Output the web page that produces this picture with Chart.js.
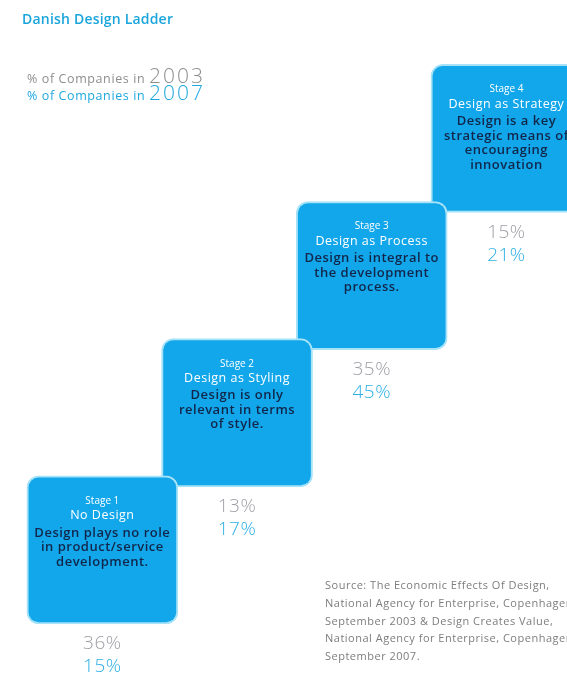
<!DOCTYPE html>
<html>
<head>
<meta charset="utf-8">
<script src="https://cdn.jsdelivr.net/npm/chart.js@4.4.1/dist/chart.umd.min.js"></script>
<style>
    html, body { margin: 0; padding: 0; background: #fff; overflow: hidden; }
    #wrap { position: relative; width: 567px; height: 687px; }
    #ladder { position: absolute; left: 0; top: 0; }
    .title { position: absolute; left: 22px; top: 9px; font: 600 14px "Open Sans"; color: #1aa5dc; letter-spacing: 0.2px; }
    .leg { position: absolute; left: 27px; font: 12.5px "Open Sans"; letter-spacing: 0.6px; white-space: nowrap; }
    .leg span { font-weight: 300; font-size: 21px; letter-spacing: 2px; }
    .y03 { top: 61px; color: #8e8e8e; }
    .y07 { top: 78px; color: #1fa8e0; }
    .source { position: absolute; left: 325px; top: 576px; font: 11px "Open Sans"; line-height: 17.8px; color: #7d7d7d; white-space: nowrap; letter-spacing: 0.5px; }
</style>
</head>
<body>
<div id="wrap">
    <canvas id="ladder" width="567" height="687"></canvas>
    <div class="title">Danish Design Ladder</div>
    <div class="leg y03">% of Companies in <span>2003</span></div>
    <div class="leg y07">% of Companies in <span>2007</span></div>
    <div class="source">
        Source: The Economic Effects Of Design,<br>
        National Agency for Enterprise, Copenhagen<br>
        September 2003 &amp; Design Creates Value,<br>
        National Agency for Enterprise, Copenhagen<br>
        September 2007.
    </div>
</div>

<script>
// ladder rungs (stage number = step height)
const stages = [1, 2, 3, 4];
const stageLabels = ['Stage 1', 'Stage 2', 'Stage 3', 'Stage 4'];
const stageNames = ['No Design', 'Design as Styling', 'Design as Process', 'Design as Strategy'];
const stageText = [
    ['Design plays no role', 'in product/service', 'development.'],
    ['Design is only', 'relevant in terms', 'of style.'],
    ['Design is integral to', 'the development', 'process.'],
    ['Design is a key', 'strategic means of', 'encouraging', 'innovation']
];
const pct2003 = [36, 13, 35, 15];
const pct2007 = [15, 17, 45, 21];

const BOX = '#12a6ea';
const EDGE = '#a6e2f8';
const GREY = '#a19ea6';
const CYAN = '#2eb0e4';
const NAVY = '#12264a';
const STEP_OVERLAP = 0.08;

// lower steps are painted on top of higher ones
const order = stages.map((s, i) => i).reverse();

const textPlugin = {
    id: 'ladderText',
    afterDatasetsDraw(chart) {
        const ctx = chart.ctx;
        const meta = chart.getDatasetMeta(0);
        ctx.save();
        ctx.textAlign = 'center';
        ctx.textBaseline = 'middle';
        meta.data.forEach((bar, j) => {
            const i = order[j];
            const cx = bar.x;
            const top = bar.y;
            const bottom = bar.base;

            ctx.fillStyle = '#ffffff';
            ctx.letterSpacing = '0px';
            ctx.font = '10px "Open Sans"';
            ctx.fillText(stageLabels[i], cx, top + 25);
            ctx.letterSpacing = '0.5px';
            ctx.font = '12.5px "Open Sans"';
            ctx.fillText(stageNames[i], cx, top + 40);

            ctx.fillStyle = NAVY;
            ctx.letterSpacing = '0.5px';
            ctx.font = '600 13px "Open Sans"';
            stageText[i].forEach((line, k) => {
                ctx.fillText(line, cx, top + 57 + k * 14.5);
            });

            ctx.letterSpacing = '0.5px';
            ctx.font = '300 19px "Open Sans"';
            ctx.fillStyle = GREY;
            ctx.fillText(pct2003[i] + '%', cx, bottom + 20);
            ctx.fillStyle = CYAN;
            ctx.fillText(pct2007[i] + '%', cx, bottom + 43);
        });
        ctx.restore();
    }
};

new Chart(document.getElementById('ladder'), {
    type: 'bar',
    data: {
        datasets: [{
            data: order.map(i => ({ x: stages[i], y: [stages[i] - 1 - STEP_OVERLAP, stages[i]] })),
            backgroundColor: BOX,
            borderColor: EDGE,
            borderWidth: 2,
            borderSkipped: false,
            borderRadius: 12,
            barThickness: 151,
            clip: false
        }]
    },
    options: {
        responsive: false,
        animation: false,
        layout: { padding: 0 },
        plugins: {
            legend: { display: false },
            tooltip: { enabled: false },
            title: { display: false }
        },
        scales: {
            x: { type: 'linear', display: false, offset: false, min: 0.24, max: 4.45 },
            y: { type: 'linear', display: false, min: -0.54, max: 4.47 }
        }
    },
    plugins: [textPlugin]
});
</script>
</body>
</html>
